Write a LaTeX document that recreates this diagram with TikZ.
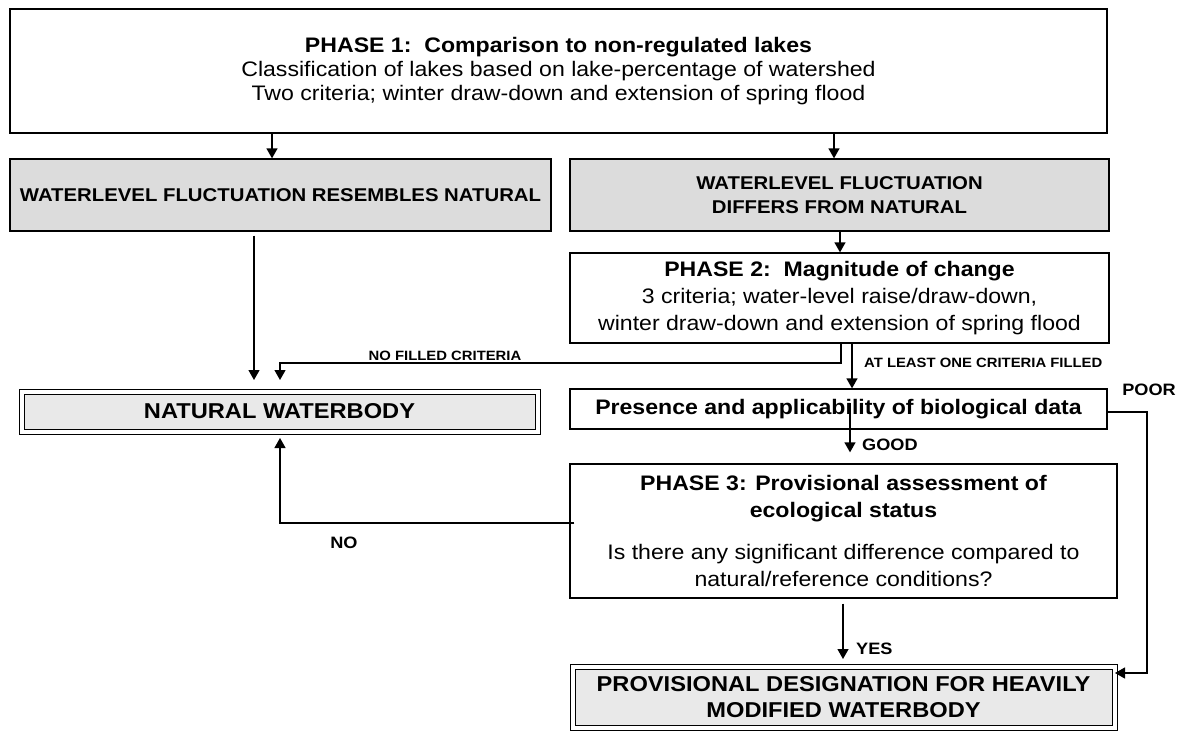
\documentclass[tikz,border=0pt]{standalone}
\usepackage{fontspec}
\setmainfont{Liberation Sans}[FakeStretch=1.1]
\usetikzlibrary{arrows.meta}
\definecolor{boxgray}{RGB}{220,220,220}
\definecolor{palegray}{RGB}{233,233,233}
\newcommand\fsz[2]{\fontsize{#1}{#2}\selectfont}
\begin{document}
\begin{tikzpicture}[x=1pt,y=-1pt,
  box/.style={draw=black,line width=1.3pt,inner sep=0pt,align=center},
  graybox/.style={box,fill=boxgray,font=\fsz{18.5}{24}\bfseries},
  dbox/.style={draw=black,line width=1pt,double=white,double distance=4pt,fill=palegray,inner sep=0pt,align=center,font=\fsz{21.5}{26}\bfseries},
  arr/.style={line width=1.3pt,-{Triangle[length=10pt,width=11pt]}},
  small/.style={font=\fsz{13.5}{16}\bfseries,inner sep=0pt},
  lab/.style={font=\fsz{16.5}{20}\bfseries,inner sep=0pt}
]
\useasboundingbox (0,0) rectangle (1187,731);

\node[box,minimum width=1097pt,minimum height=124pt,font=\fsz{21}{24}] (p1) at (558.5,71)
  {\textbf{PHASE 1:\ \ Comparison to non-regulated lakes}\\
   Classification of lakes based on lake-percentage of watershed\\
   Two criteria; winter draw-down and extension of spring flood};

\node[graybox,minimum width=541pt,minimum height=72pt] (g1) at (280.5,195)
  {WATERLEVEL FLUCTUATION RESEMBLES NATURAL};
\node[graybox,minimum width=539pt,minimum height=72pt] (g2) at (839.5,195)
  {WATERLEVEL FLUCTUATION\\DIFFERS FROM NATURAL};

\node[box,minimum width=539pt,minimum height=90pt,font=\fsz{21}{27}] (p2) at (839.5,298)
  {\textbf{PHASE 2:\ \ Magnitude of change}\\
   3 criteria; water-level raise/draw-down,\\
   winter draw-down and extension of spring flood};

\node[dbox,minimum width=516pt,minimum height=40pt] (nat) at (279.5,411.5) {NATURAL WATERBODY};

\node[box,minimum width=537pt,minimum height=40pt,font=\fsz{21}{24}\bfseries] (pres) at (838.5,409)
  {Presence and applicability of biological data};

\node[box,minimum width=547pt,minimum height=134pt,font=\fsz{21}{27}] (p3) at (843.5,531)
  {\textbf{PHASE 3: Provisional assessment of}\\
   \textbf{ecological status}\\[15pt]
   Is there any significant difference compared to\\
   natural/reference conditions?};

\node[dbox,minimum width=542pt,minimum height=61pt] (hm) at (843.5,697)
  {PROVISIONAL DESIGNATION FOR HEAVILY\\MODIFIED WATERBODY};

% connectors
\draw[arr] (p1.south -| 272,0) -- (g1.north -| 272,0);
\draw[arr] (p1.south -| 834,0) -- (g2.north -| 834,0);
\draw[arr] (g2.south -| 840,0) -- (p2.north -| 840,0);
\draw[arr,shorten <=4pt,shorten >=11pt] (g1.south -| 254,0) -- (nat.north -| 254,0);
\draw[arr,shorten >=11pt] (p2.south -| 841,0) -- (841,363) -| (nat.north -| 280,0);
\draw[arr] (p2.south -| 852,0) -- (pres.north -| 852,0);
\draw[arr,shorten >=11pt] (pres.center -| 850,0) ++(0,-6) -- (p3.north -| 850,0);
\draw[arr] (pres.east |- 0,412) -- (1147,412) |- (hm.east |- 0,673);
\draw[arr,shorten >=6pt] ([xshift=5pt]p3.west |- 0,523) -- (280,523) -- (nat.south -| 280,0);
\draw[arr,shorten <=5pt,shorten >=7pt] (p3.south -| 843,0) -- (hm.north -| 843,0);

% labels
\node[small,anchor=base] (lnf) at (445,360) {NO FILLED CRITERIA};
\node[small,anchor=west] (lal) at (864,363) {AT LEAST ONE CRITERIA FILLED};
\node[lab] (lpoor) at (1149,390) {POOR};
\node[lab,anchor=west] (lgood) at (862,445) {GOOD};
\node[lab] (lno) at (344,543) {NO};
\node[lab,anchor=west] (lyes) at (856,649) {YES};
\end{tikzpicture}
\end{document}
